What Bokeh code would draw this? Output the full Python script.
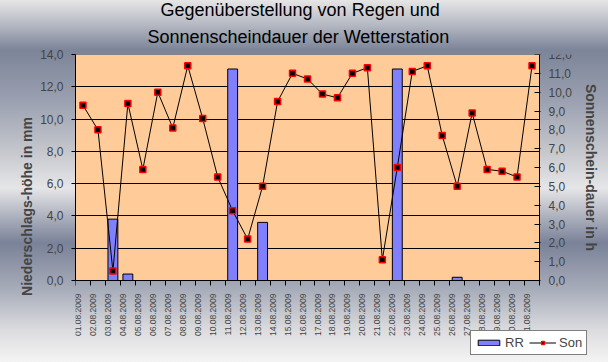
import math
from bokeh.plotting import figure
from bokeh.models import (Range1d, LinearAxis, FixedTicker, Title, Legend, LegendItem,
                          CustomJSTickFormatter, ColumnDataSource, BoxAnnotation)
from bokeh.embed import file_html
from bokeh.resources import INLINE

try:
    from bokeh.models import GlobalInlineStyleSheet as _Sheet
    SHEET_CSS = ("body{background:linear-gradient(to bottom,#e6e6e6 0px,#b4b8c2 25px,#7c8498 50px,"
                 "#9aa0b0 100px,#c4c6cc 150px,#e6e6e8 188px,#b0b4c0 215px,#7a8298 243px,"
                 "#a8adba 290px,#dcdcdf 330px,#f4f4f4 362px) fixed;}")
except ImportError:
    from bokeh.models import InlineStyleSheet as _Sheet
    SHEET_CSS = (":host{background:linear-gradient(to bottom,#e6e6e6 0px,#7c8498 50px,"
                 "#e6e6e8 188px,#7a8298 243px,#f4f4f4 362px);}")

# ---------------- data ----------------
dates = ["01.08.2009", "02.08.2009", "03.08.2009", "04.08.2009", "05.08.2009", "06.08.2009",
         "07.08.2009", "08.08.2009", "09.08.2009", "10.08.2009", "11.08.2009", "12.08.2009",
         "13.08.2009", "14.08.2009", "15.08.2009", "16.08.2009", "17.08.2009", "18.08.2009",
         "19.08.2009", "20.08.2009", "21.08.2009", "22.08.2009", "23.08.2009", "24.08.2009",
         "25.08.2009", "26.08.2009", "27.08.2009", "28.08.2009", "29.08.2009", "30.08.2009",
         "31.08.2009"]
rr = [0.0, 0.0, 3.8, 0.4, 0.0, 0.0, 0.0, 0.0, 0.0, 0.0, 13.1, 0.0, 3.6, 0.0, 0.0, 0.0,
      0.0, 0.0, 0.0, 0.0, 0.0, 13.1, 0.0, 0.0, 0.0, 0.2, 0.0, 0.0, 0.0, 0.0, 0.0]
son = [9.3, 8.0, 0.5, 9.4, 5.9, 10.0, 8.1, 11.4, 8.6, 5.5, 3.7, 2.2, 5.0, 9.5, 11.0, 10.7,
       9.9, 9.7, 11.0, 11.3, 1.1, 6.0, 11.1, 11.4, 7.7, 5.0, 8.9, 5.9, 5.8, 5.5, 11.4]
left_ticks = [0, 2, 4, 6, 8, 10, 12, 14]
right_ticks = [0, 1, 2, 3, 4, 5, 6, 7, 8, 9, 10, 11, 12]
title_line1 = "Gegenüberstellung von Regen und"
title_line2 = "Sonnenscheindauer der Wetterstation"
left_label = "Niederschlags-höhe in mm"
right_label = "Sonnenschein-dauer in h"

RR_MAX, SON_MAX = 14, 12

# ---------------- geometry (pixels) ----------------
W, H = 608, 362
PL, PR, PT, PB = 75, 539, 54, 280        # peach plot area edges
FR, FB = 606, 358                        # frame extends further so the legend is not clipped
TITLE1_X, TITLE2_X = 160, 147            # left edges of the two title lines
below_frac = (FB - PB) / (PB - PT)
right_frac = (FR - PL) / (PR - PL)
LABEL_SHIFT = 0.33                       # date labels sit a little left of the bar centre

n = len(dates)
xc = [i + 0.5 for i in range(n)]
label_pos = [i + 0.5 - LABEL_SHIFT for i in range(n)]
src = ColumnDataSource(dict(x=xc, rr=[v if v > 0 else float("nan") for v in rr], son=son))

FONT = "Liberation Sans"

p = figure(width=W, height=H, x_range=Range1d(0, n * right_frac),
           y_range=Range1d(-RR_MAX * below_frac, RR_MAX),
           output_backend="svg", toolbar_location=None,
           min_border_left=PL, min_border_right=W - FR, min_border_top=PT,
           min_border_bottom=H - FB)
p.extra_y_ranges = {"son": Range1d(-SON_MAX * below_frac, SON_MAX)}
p.border_fill_color = None
p.background_fill_color = None
p.outline_line_color = None
p.stylesheets = [_Sheet(css=SHEET_CSS)]

t1 = Title(text=title_line1, align="left", text_font=FONT, text_font_size="18px",
           text_font_style="normal", text_color="black", standoff=0, offset=TITLE1_X - PL)
try:
    t1.standoff = -6
except Exception:
    t1.standoff = 0
p.title = t1
p.add_layout(Title(text=title_line2, align="left", text_font=FONT, text_font_size="18px",
                   text_font_style="normal", text_color="black", standoff=16,
                   offset=TITLE2_X - PL),
             "above")

# peach plot area with black border
area = BoxAnnotation(left=0, right=n, bottom=0, top=RR_MAX, fill_color="#FFCC99",
                     fill_alpha=1, line_color="black", line_width=1, level="image")
p.add_layout(area)

# grid
p.xgrid.visible = False
grid_ok = True
try:
    p.ygrid.cross_bounds = (0, n)
except Exception:
    grid_ok = False
if grid_ok:
    p.ygrid.ticker = FixedTicker(ticks=left_ticks)
    p.ygrid.grid_line_color = "black"
    p.ygrid.grid_line_width = 1
else:
    p.ygrid.visible = False
    p.segment(x0=[0] * len(left_ticks), x1=[n] * len(left_ticks), y0=left_ticks,
              y1=left_ticks, line_color="black", line_width=1, level="underlay")

comma = CustomJSTickFormatter(code="return tick.toFixed(1).replace('.', ',');")

# left axis
ya = p.yaxis[0]
ya.ticker = FixedTicker(ticks=left_ticks)
ya.bounds = (0, RR_MAX)
ya.formatter = comma
ya.axis_label = left_label
ya.axis_label_text_font = FONT
ya.axis_label_text_font_size = "14px"
ya.axis_label_text_font_style = "bold"
ya.axis_label_standoff = 2
ya.major_label_text_font = FONT
ya.major_label_text_font_size = "12px"
ya.major_label_standoff = 8
ya.major_tick_out = 4
ya.major_tick_in = 0
ya.minor_tick_out = 0
ya.minor_tick_in = 0
ya.axis_line_color = "black"
ya.major_tick_line_color = "black"

# right axis, pinned at the right edge of the plot area
ra = LinearAxis(y_range_name="son", ticker=FixedTicker(ticks=right_ticks), formatter=comma,
                bounds=(0, SON_MAX), fixed_location=n)
ra.axis_label = right_label
ra.axis_label_text_font = FONT
ra.axis_label_text_font_size = "14px"
ra.axis_label_text_font_style = "bold"
ra.axis_label_standoff = 8
ra.major_label_text_font = FONT
ra.major_label_text_font_size = "12px"
ra.major_label_standoff = 8
ra.major_tick_out = 1
ra.major_tick_in = 5
ra.minor_tick_out = 0
ra.minor_tick_in = 0
p.add_layout(ra, "right")

# bottom (date) axis, pinned at value 0
xa = p.xaxis[0]
xa.fixed_location = 0
xa.bounds = (0, n)
xa.ticker = FixedTicker(ticks=label_pos, minor_ticks=list(range(n + 1)))
xa.formatter = CustomJSTickFormatter(args=dict(labels=dates),
                                     code="return labels[Math.floor(tick)];")
xa.major_label_orientation = math.pi / 2
xa.major_label_text_font = FONT
xa.major_label_text_font_size = "8.5px"
xa.major_label_standoff = 8
xa.major_tick_out = 0
xa.major_tick_in = 0
xa.minor_tick_out = 5
xa.minor_tick_in = 0
xa.minor_tick_line_color = "black"
xa.axis_line_color = "black"

bars = p.vbar(x="x", top="rr", width=0.66, source=src, fill_color="#8080FF",
              line_color="black", line_width=1)
ln = p.line(x="x", y="son", source=src, y_range_name="son", line_color="black", line_width=1)
pts = p.scatter(x="x", y="son", source=src, y_range_name="son", marker="square", size=6,
                fill_color="black", line_color="#FF0000", line_width=1.5)

legend = Legend(items=[LegendItem(label="RR", renderers=[bars]),
                       LegendItem(label="Son", renderers=[ln, pts])],
                orientation="horizontal", location=(470 - PL, FB - 355))
legend.border_line_color = "black"
legend.border_line_width = 1
legend.background_fill_color = "white"
legend.background_fill_alpha = 1
legend.label_text_font = FONT
legend.label_text_font_size = "13px"
legend.glyph_width = 27
legend.glyph_height = 7
legend.label_height = 14
legend.padding = 4
legend.spacing = 4
legend.label_standoff = 3
legend.margin = 0
p.add_layout(legend)

open("out.html", "w").write(file_html(p, INLINE))
